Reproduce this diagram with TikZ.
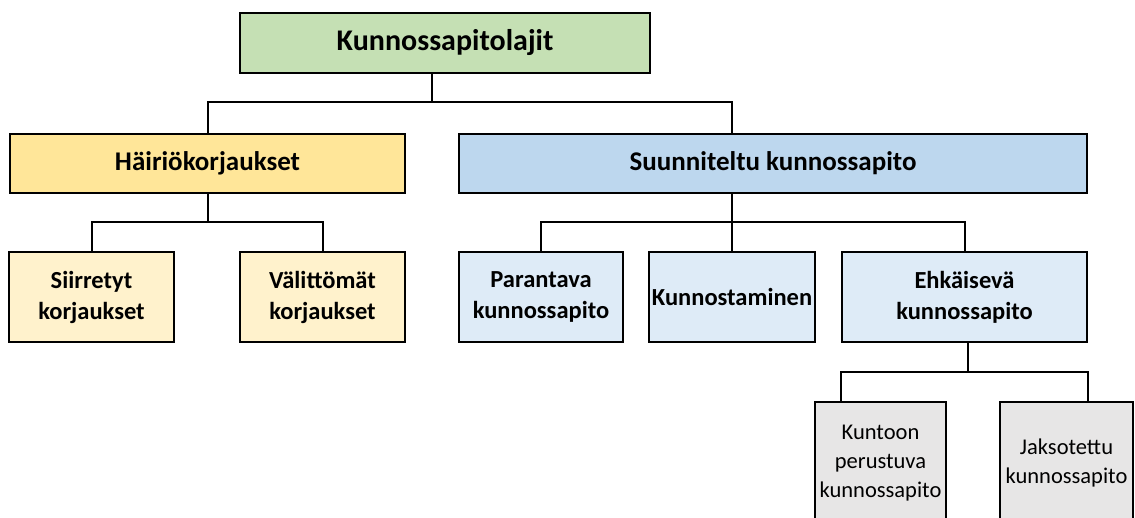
\documentclass[tikz,border=0pt]{standalone}
\usepackage{fontspec}
\setmainfont{Carlito}
\usepackage{tikz}
\usetikzlibrary{positioning}
\definecolor{topgreen}{HTML}{C5E0B4}
\definecolor{goldmain}{HTML}{FFE699}
\definecolor{goldsub}{HTML}{FFF2CC}
\definecolor{bluemain}{HTML}{BDD7EE}
\definecolor{bluesub}{HTML}{DEEBF7}
\definecolor{greysub}{HTML}{E7E6E6}

\begin{document}
\begin{tikzpicture}[x=1pt, y=-1pt,
    box/.style={draw, line width=2pt, inner sep=2pt, align=center},
    conn/.style={line width=2pt},
    big/.style={font=\fontsize{30}{34}\selectfont\bfseries},
    mid/.style={font=\fontsize{27}{31}\selectfont\bfseries},
    small/.style={font=\fontsize{24.5}{31}\selectfont\bfseries},
    plain/.style={font=\fontsize{22.5}{29}\selectfont}]
    \useasboundingbox (0,0) rectangle (1135,517);
    \clip (0,0) rectangle (1135,517);

    \node[box, big, fill=topgreen, minimum width=410pt, minimum height=60pt] (top) at (445,43) {Kunnossapitolajit};

    \node[box, mid, fill=goldmain, minimum width=395pt, minimum height=59pt] (hairio) at (207.5,163) {Häiriökorjaukset};
    \node[box, mid, fill=bluemain, minimum width=628pt, minimum height=59pt] (suun) at (773,163) {Suunniteltu kunnossapito};

    \node[box, small, fill=goldsub, minimum width=165pt, minimum height=90pt] (siirr) at (91.5,297) {Siirretyt\\korjaukset};
    \node[box, small, fill=goldsub, minimum width=165pt, minimum height=90pt] (valit) at (322.5,297) {Välittömät\\korjaukset};
    \node[box, small, fill=bluesub, minimum width=164pt, minimum height=90pt] (paran) at (541,297) {Parantava\\kunnossapito};
    \node[box, small, fill=bluesub, minimum width=166pt, minimum height=90pt, inner sep=0pt] (kunnos) at (732,297) {Kunnostaminen};
    \node[box, small, fill=bluesub, minimum width=245pt, minimum height=90pt] (ehk) at (964.5,297) {Ehkäisevä\\kunnossapito};

    \node[box, plain, fill=greysub, minimum width=131pt, minimum height=122pt, inner sep=0pt] (kunto) at (880.5,463) {Kuntoon\\perustuva\\kunnossapito};
    \node[box, plain, fill=greysub, minimum width=133pt, minimum height=122pt, inner sep=0pt] (jakso) at (1066.5,463) {Jaksotettu\\kunnossapito};

    % level 1
    \coordinate (b0) at (432,102);
    \draw[conn] (top.south -| b0) -- (b0);
    \draw[conn] (hairio.north) |- (b0) -| (suun.north -| kunnos.north);

    % level 2
    \coordinate (b1) at (207.5,222);
    \draw[conn] (hairio.south) -- (b1);
    \draw[conn] (siirr.north) |- (b1) -| (valit.north);
    \coordinate (b2) at (732,222);
    \draw[conn] (suun.south -| kunnos.north) -- (kunnos.north);
    \draw[conn] (paran.north) |- (b2) -| (ehk.north);

    % level 3
    \coordinate (b3) at (968,372);
    \draw[conn] (ehk.south -| b3) -- (b3);
    \draw[conn] (kunto.north -| ehk.west) |- (b3) -| (jakso.north -| ehk.east);
\end{tikzpicture}
\end{document}
